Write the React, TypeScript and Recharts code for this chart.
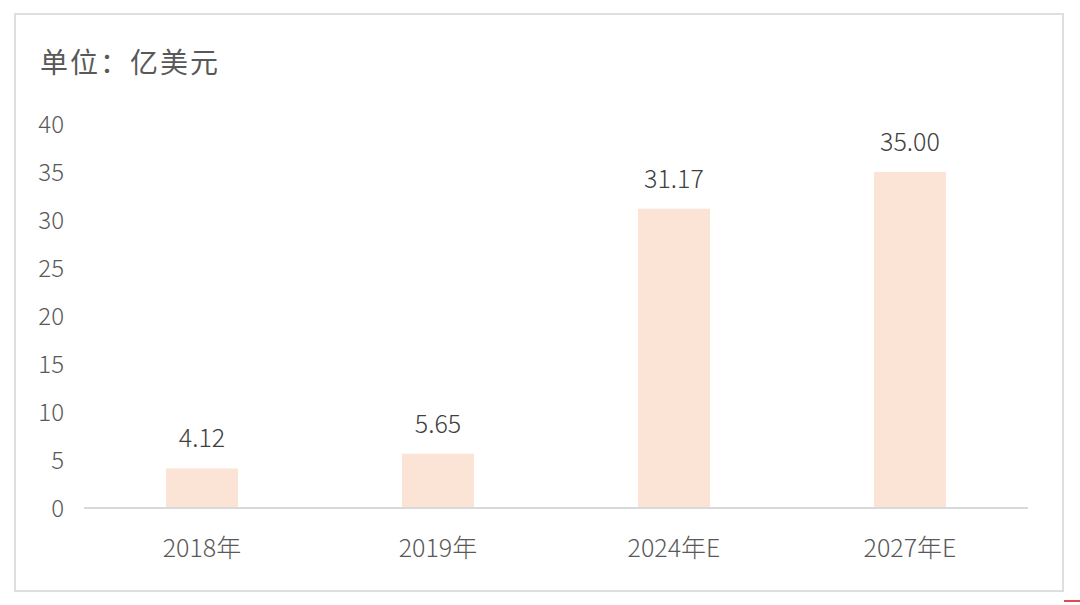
import { BarChart, Bar, XAxis, YAxis, LabelList } from 'recharts';

const categories = ['2018年', '2019年', '2024年E', '2027年E'];
const values = [4.12, 5.65, 31.17, 35.0];
const yTicks = [0, 5, 10, 15, 20, 25, 30, 35, 40];

const data = categories.map((name, i) => ({ name, value: values[i] }));

const FONT = '"Noto Sans CJK SC", "Noto Sans", sans-serif';
const TEXT = '#595959';

export default function App() {
  return (
    <div
      style={{
        position: 'fixed',
        left: 0,
        top: 0,
        width: 1080,
        height: 605,
        background: '#fff',
        fontFamily: FONT,
      }}
    >
      {/* frame */}
      <div
        style={{
          position: 'absolute',
          left: 14,
          top: 13,
          width: 1046,
          height: 575,
          border: '2px solid #dedede',
        }}
      />
      <div
        style={{
          position: 'absolute',
          left: 40,
          top: 43,
          fontSize: 28,
          color: TEXT,
          lineHeight: '36px',
          letterSpacing: 2,
          fontWeight: 400,
        }}
      >
        单位：亿美元
      </div>
      {/* small red mark bottom right */}
      <div
        style={{
          position: 'absolute',
          left: 1064,
          top: 600,
          width: 16,
          height: 2,
          background: '#e8474c',
        }}
      />
      <div style={{ position: 'absolute', left: 0, top: 0 }}>
        <BarChart
          width={1080}
          height={605}
          data={data}
          margin={{ top: 124, right: 52, left: 24, bottom: 67 }}
          barSize={72}
        >
          <XAxis
            dataKey='name'
            height={30}
            tickLine={false}
            tickMargin={25}
            axisLine={{ stroke: '#d9d9d9', strokeWidth: 2 }}
            tick={{ fill: TEXT, fontSize: 25, fontFamily: FONT, fontWeight: 300 }}
          />
          <YAxis
            width={60}
            domain={[0, 40]}
            ticks={yTicks}
            interval={0}
            axisLine={false}
            tickLine={false}
            tickMargin={14}
            tick={{ fill: TEXT, fontSize: 24, fontFamily: FONT, fontWeight: 300 }}
          />
          <Bar dataKey='value' fill='#fbe4d6' isAnimationActive={false}>
            <LabelList
              dataKey='value'
              position='top'
              offset={21}
              formatter={(v: any) => Number(v).toFixed(2)}
              style={{ fill: '#404040', fontSize: 25, fontFamily: FONT, fontWeight: 300 }}
            />
          </Bar>
        </BarChart>
      </div>
    </div>
  );
}
